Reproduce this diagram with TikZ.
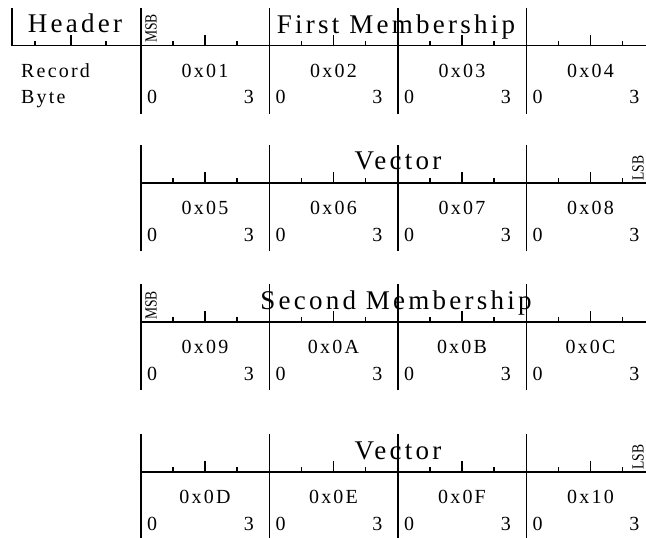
\documentclass[tikz,border=0pt]{standalone}
\usepackage{fontspec}
\setmainfont{Liberation Serif}
\newfontfamily\spacedfont[LetterSpace=12]{Liberation Serif}
\newfontfamily\labfont[LetterSpace=11]{Liberation Serif}
\begin{document}
\begin{tikzpicture}[x=1pt,y=-1pt,
  rule/.style={line width=1.2pt,black},
  tick/.style={line width=1.7pt,black},
  title/.style={font=\spacedfont\fontsize{27}{27}\selectfont,inner sep=0,anchor=base},
  lab/.style={font=\labfont\fontsize{20}{20}\selectfont,inner sep=0},
  num/.style={font=\fontsize{20}{20}\selectfont,inner sep=0},
  tag/.style={font=\fontsize{17}{17}\selectfont,inner sep=0,rotate=90,anchor=west}]
\useasboundingbox (0,0) rectangle (646,538);
\begin{scope}
\clip (0,0) rectangle (646,538);
% header part of row 1
\draw[rule] (12,8) -- (12,45.7) -- (646,45.7);
\foreach \x/\h in {35/5,71/11,106/5} \draw[tick] (\x,45.7) -- (\x,45.7-\h);
% rows
\foreach \r/\ly in {1/45.7,2/183,3/322,4/472}{
  \draw[rule] (141,\ly) -- (660,\ly);
  \foreach \k in {0,1,2,3}{
    \pgfmathsetmacro{\bx}{141+128.5*\k}
    \draw[rule] (\bx,\ly-38) -- (\bx,\ly+68);
    \draw[tick] (\bx+32,\ly) -- (\bx+32,\ly-5);
    \draw[tick] (\bx+64,\ly) -- (\bx+64,\ly-11);
    \draw[tick] (\bx+96,\ly) -- (\bx+96,\ly-5);
    \node[num,anchor=base west] (z\r\k) at (\bx+6,\ly+58) {0};
    \node[num,anchor=base east] (t\r\k) at (\bx+113,\ly+58) {3};
  }
}
\end{scope}
% titles
\node[title] (hdr) at (75,32) {Header};
\node[title] (fm) at (396,34) {First Membership};
\node[title] (v1) at (398,169.5) {Vector};
\node[title] (sm) at (396,309) {Second Membership};
\node[title] (v2) at (398,459) {Vector};
% MSB / LSB
\node[tag] (msb1) at (151,43) {\scalebox{0.8}[1]{MSB}};
\node[tag] (lsb1) at (638,181) {\scalebox{0.8}[1]{LSB}};
\node[tag] (msb2) at (151,320) {\scalebox{0.8}[1]{MSB}};
\node[tag] (lsb2) at (638,470) {\scalebox{0.8}[1]{LSB}};
% row labels
\node[lab,anchor=base west] (rec) at (21,77) {Record};
\node[lab,anchor=base west] (byt) at (21,103.7) {Byte};
% byte addresses
\foreach \r/\ly/\a/\b/\c/\d in {1/45.7/01/02/03/04,2/183/05/06/07/08,3/322/09/0A/0B/0C,4/472/0D/0E/0F/10}{
  \node[lab,anchor=base] (a\r a) at (141+64,\ly+31.5) {0x\a};
  \node[lab,anchor=base] (a\r b) at (141+128.5+64,\ly+31.5) {0x\b};
  \node[lab,anchor=base] (a\r c) at (141+257+64,\ly+31.5) {0x\c};
  \node[lab,anchor=base] (a\r d) at (141+385.5+64,\ly+31.5) {0x\d};
}
\end{tikzpicture}
\end{document}
